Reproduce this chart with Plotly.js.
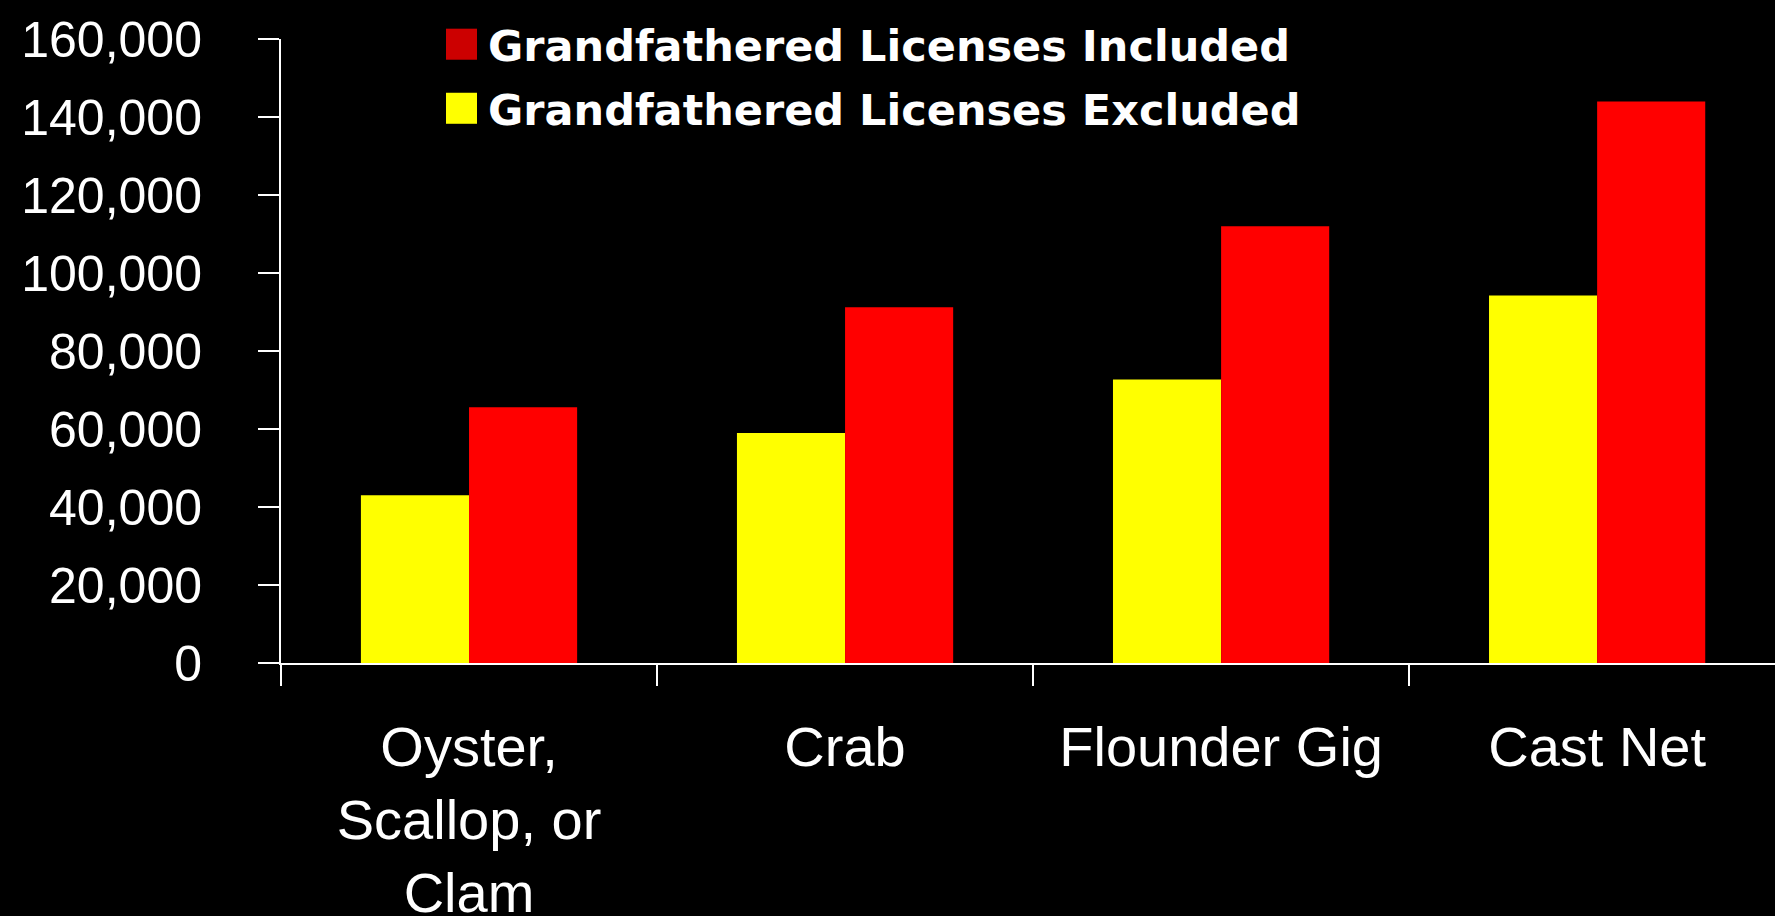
<!DOCTYPE html>
<html>
<head>
<meta charset="utf-8">
<script src="https://cdn.plot.ly/plotly-3.0.1.min.js"></script>
<style>html,body{margin:0;padding:0;background:#000;}#chart{width:1775px;height:916px;}</style>
</head>
<body>
<div id="chart"></div>
<script>
const categories = ["Oyster,<br>Scallop, or<br>Clam", "Crab", "Flounder Gig", "Cast Net"];
const excludedName = "Grandfathered Licenses Excluded";
const includedName = "Grandfathered Licenses Included";
const excludedValues = [43000, 59000, 72700, 94200];
const includedValues = [65600, 91200, 112000, 144000];
const yTickVals = [0, 20000, 40000, 60000, 80000, 100000, 120000, 140000, 160000];
const yTickText = ["0", "20,000", "40,000", "60,000", "80,000", "100,000", "120,000", "140,000", "160,000"];

const traces = [
  {type: "bar", name: excludedName, x: categories, y: excludedValues,
   marker: {color: "#FFFF00", line: {width: 0}}, showlegend: false, hoverinfo: "x+y"},
  {type: "bar", name: includedName, x: categories, y: includedValues,
   marker: {color: "#FF0000", line: {width: 0}}, showlegend: false, hoverinfo: "x+y"}
];

// custom legend (included first, then excluded)
const legendItems = [
  {name: includedName, color: "#CC0000"},
  {name: excludedName, color: "#FFFF00"}
];
const L = 281, W = 1494, B = 662.7, H = 623.4;
const px2x = p => (p - L) / W;
const px2y = p => (B - p) / H;
const swatchTops = [29, 93];
const shapes = [];
const annotations = [];
legendItems.forEach((it, i) => {
  const top = swatchTops[i];
  shapes.push({type: "rect", xref: "paper", yref: "paper",
    x0: px2x(446), x1: px2x(477), y0: px2y(top + 31), y1: px2y(top),
    fillcolor: it.color, line: {width: 0}});
  annotations.push({xref: "paper", yref: "paper", x: px2x(486), y: px2y(top + 17),
    xanchor: "left", yanchor: "middle", showarrow: false,
    text: "<b>" + it.name + "</b>",
    font: {family: "DejaVu Sans", size: 43, color: "#FFFFFF"}});
});

const layout = {
  width: 1775, height: 916,
  paper_bgcolor: "#000000", plot_bgcolor: "#000000",
  margin: {l: L, r: 0, t: B - H, b: 916 - B, pad: 0},
  barmode: "group", bargap: 0.425, bargroupgap: 0,
  showlegend: false,
  xaxis: {
    type: "category", range: [-0.5, 3.473], fixedrange: true,
    showline: true, linecolor: "#FFFFFF", linewidth: 2,
    ticks: "outside", tickson: "boundaries", ticklen: 21, tickwidth: 2, tickcolor: "#FFFFFF",
    showgrid: false, zeroline: false,
    tickfont: {family: "Liberation Sans", size: 56, color: "#FFFFFF"},
    ticklabelstandoff: 34
  },
  yaxis: {
    range: [0, 160000], fixedrange: true,
    tickvals: yTickVals, ticktext: yTickText,
    showline: true, linecolor: "#FFFFFF", linewidth: 2,
    ticks: "outside", ticklen: 21, tickwidth: 2, tickcolor: "#FFFFFF",
    showgrid: false, zeroline: false,
    tickfont: {family: "Liberation Sans", size: 50, color: "#FFFFFF"},
    ticklabelstandoff: 46
  },
  shapes: shapes,
  annotations: annotations
};

Plotly.newPlot("chart", traces, layout, {displayModeBar: false, staticPlot: true});
</script>
</body>
</html>
